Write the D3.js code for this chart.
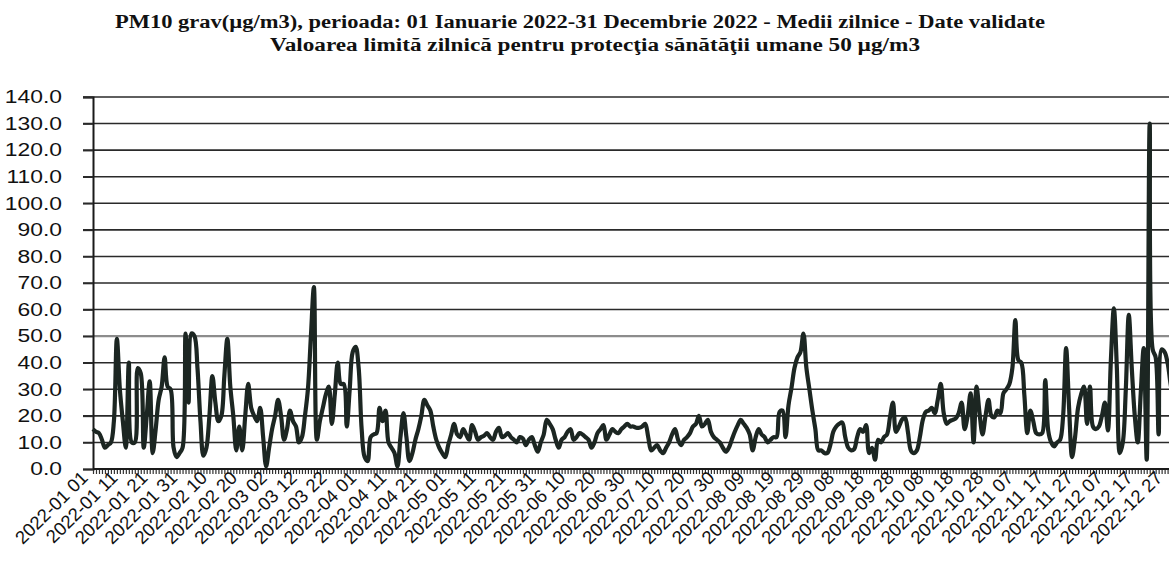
<!DOCTYPE html>
<html>
<head>
<meta charset="utf-8">
<script src="https://cdn.jsdelivr.net/npm/d3@7"></script>
<style>
  body { margin: 0; background: #fff; }
  svg { display: block; }
</style>
</head>
<body>
<script>
// PM10 daily means 2022, one array per month
const jan = [15,14,13.5,11,8,9,10,18,49,30,18,8,40,10,10,38,36,8,20,33,6,15,26,31,42,31,30,8,4.5,6,8];
const feb = [51,25,51,50,38,18,5,8,20,35,25,18,20,35,49,31,20,7,16,7,20,32,23,20,18,23,12,1];
const mar = [8,15,20,26,20,11,15,22,18,16,10,12,20,30,50,68.5,11,18,23,28,31,17,28,40,32,32,16,30,44,46,38];
const apr = [15,4.5,3,12,13,13.5,23,18,22,10,8,6,1,12,21,12,3,6,11,15,20,26,24,22,16,11,8,6,4.5,9];
const may = [13,17,13,12,15,13,11,16.5,14,11,12,12.5,13.5,12,11,14,15.5,12,12.5,13.5,12,11,10,12,11.5,9,11,12,9,6.5,10];
const jun = [13,18.5,17,15,11,8,11,12,14,15,11,12,13.5,13,12,11,8,10,13.5,15,16.5,11,13,15,14,13.5,15,16,17,16];
const jul = [16,15.5,15.5,16,17,12,7,8,9,7,6,8,10,13,15,11,9,11,12,13.5,16,17,20,16,17,18.5,14,12,11,10,8];
const aug = [6.5,8,11,14,16.5,18.5,17,15.5,13,7,12,15,13,12,10,11,12,12,21.5,22,12,24,30.5,38,42,44,51,38,30,22,15];
const sep = [7,7,6,6,9,14,16,17,17.5,12,8,7,7.5,12,15,14,16.5,6,8,3.5,11,10,12,13,19.5,25,14,16,18.5,19.5];
const oct = [14,7,6,7,12,18.5,21.5,22,23,21,26,32,21,17,18,18.5,19,21,25,15,20,28.5,10,31,21,13,20,26,20,19.5,22];
const nov = [21,28.5,30,32,38,56,41,40,28,13.5,22,18,13.5,13,13.5,33.5,14.5,10,8.5,10,11,20,45.5,23,4.5,12,23,28,31,17];
const dec = [31,16,15,16,20,25,14.5,41,60.5,38,6,10,30,58,38,20,10,28.5,45.5,3.5,130,45,42,13,45,44,40,32,26,22,20];

const yTicks = [0,10,20,30,40,50,60,70,80,90,100,110,120,130,140];
const xLabels = ["2022-01 01","2022-01 11","2022-01 21","2022-01 31","2022-02 10","2022-02 20",
  "2022-03 02","2022-03 12","2022-03 22","2022-04 01","2022-04 11","2022-04 21","2022-05 01",
  "2022-05 11","2022-05 21","2022-05 31","2022-06 10","2022-06 20","2022-06 30","2022-07 10",
  "2022-07 20","2022-07 30","2022-08 09","2022-08 19","2022-08 29","2022-09 08","2022-09 18",
  "2022-09 28","2022-10 08","2022-10 18","2022-10 28","2022-11 07","2022-11 17","2022-11 27",
  "2022-12 07","2022-12 17","2022-12 27"];
const limit = 50;

const values = [].concat(jan, feb, mar, apr, may, jun, jul, aug, sep, oct, nov, dec);

const w = 1169;
const h = 564;
const left = 93;
const dayW = 2.985;

const svg = d3.select("body")
              .append("svg")
              .attr("width", w)
              .attr("height", h);

// Title

const title = svg.append("g")
                 .attr("font-family", "'Liberation Serif', 'Times New Roman', serif")
                 .attr("font-weight", "bold")
                 .attr("font-size", 18)
                 .attr("fill", "#111");

title.append("text")
     .attr("x", 115)
     .attr("y", 28)
     .attr("textLength", 930)
     .attr("lengthAdjust", "spacingAndGlyphs")
     .text("PM10 grav(µg/m3), perioada: 01 Ianuarie 2022-31 Decembrie 2022 - Medii zilnice - Date validate");

title.append("text")
     .attr("x", 270)
     .attr("y", 51)
     .attr("textLength", 650)
     .attr("lengthAdjust", "spacingAndGlyphs")
     .text("Valoarea limită zilnică pentru protecţia sănătăţii umane 50 µg/m3");

// Scales

const xScale = d3.scaleLinear()
                 .domain([0, values.length - 1])
                 .range([left, left + (values.length - 1) * dayW]);

const yScale = d3.scaleLinear()
                 .domain([0, 140])
                 .range([469, 97]);

// Gridlines

svg.append("g")
   .selectAll("line")
   .data(yTicks.filter(t => t > 0))
   .enter()
   .append("line")
   .attr("x1", left - 10)
   .attr("x2", w)
   .attr("y1", d => yScale(d))
   .attr("y2", d => yScale(d))
   .attr("stroke", d => d === limit ? "#8c8c8c" : "#2a2a2a")
   .attr("stroke-width", d => d === limit ? 2.2 : 1.6);

// Y axis

const yAxis = d3.axisLeft(yScale)
                .tickValues(yTicks)
                .tickSize(10)
                .tickPadding(21)
                .tickFormat(d3.format(".1f"));

const gy = svg.append("g")
   .attr("transform", "translate(" + left + ",0)")
   .call(yAxis);
gy.select(".domain").attr("stroke", "#1a1a1a").attr("stroke-width", 2);
gy.selectAll(".tick line").attr("stroke", "#2a2a2a").attr("stroke-width", 1.6);
gy.selectAll("text")
  .attr("font-family", "'Liberation Sans', Arial, sans-serif")
  .attr("font-size", 18)
  .attr("fill", "#111")
  .each(function() {
    // the scan is stretched sideways, widen the labels to match
    const len = this.getComputedTextLength();
    d3.select(this)
      .attr("textLength", len * 1.27)
      .attr("lengthAdjust", "spacingAndGlyphs");
  });

// X axis: one tick per day, labels every 10 days

const xAxis = d3.axisBottom(xScale)
                .tickValues(d3.range(values.length))
                .tickSize(5)
                .tickFormat("");

const gx = svg.append("g")
   .attr("transform", "translate(0," + yScale(0) + ")")
   .call(xAxis);
gx.select(".domain").remove();
gx.selectAll(".tick line").attr("stroke", "#333").attr("stroke-width", 1.2);

svg.append("line")
   .attr("x1", left)
   .attr("x2", w)
   .attr("y1", yScale(0))
   .attr("y2", yScale(0))
   .attr("stroke", "#1a1a1a")
   .attr("stroke-width", 2);

svg.append("g")
   .selectAll("text")
   .data(xLabels)
   .enter()
   .append("text")
   .attr("transform", (d, i) => "translate(" + (xScale(i * 10) - 4) + "," + (yScale(0) + 10) + ") rotate(-45)")
   .attr("text-anchor", "end")
   .attr("font-family", "'Liberation Sans', Arial, sans-serif")
   .attr("font-size", 18.5)
   .attr("fill", "#111")
   .text(d => d);

// Data line

const line = d3.line()
               .x((d, i) => xScale(i))
               .y(d => yScale(d))
               .curve(d3.curveCatmullRom.alpha(0.5));

svg.append("path")
   .datum(values)
   .attr("d", line)
   .attr("fill", "none")
   .attr("stroke", "#1c2622")
   .attr("stroke-width", 4.2)
   .attr("stroke-linejoin", "round");
</script>
</body>
</html>
